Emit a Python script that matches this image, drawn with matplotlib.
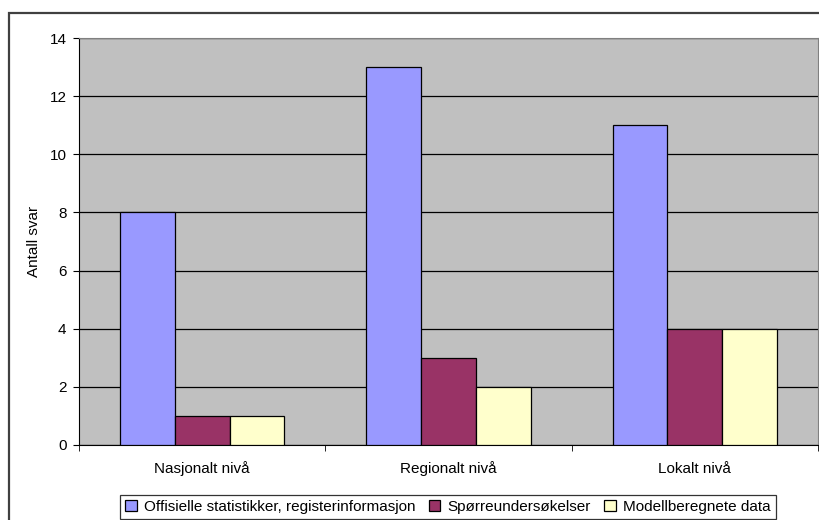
import numpy as np
import matplotlib.pyplot as plt
from matplotlib.patches import Rectangle

plt.rcParams['font.family'] = ['Liberation Sans', 'DejaVu Sans']

kategorier = ["Nasjonalt nivå", "Regionalt nivå", "Lokalt nivå"]
serier = ["Offisielle statistikker, registerinformasjon", "Spørreundersøkelser", "Modellberegnete data"]
offisielle = [8, 13, 11]
sporre = [1, 3, 4]
modell = [1, 2, 4]
farger = ["#9999FF", "#993366", "#FFFFCC"]

fig = plt.figure(figsize=(8.19, 5.2), dpi=100)
ax = fig.add_axes([79 / 819, 75 / 520, 739 / 819, 407 / 520])
ax.set_facecolor("#C0C0C0")

# ramme rundt hele diagrammet
fig.patches.append(Rectangle((9 / 819, -0.1), 1.1, 1.1 - 13 / 520,
                             transform=fig.transFigure, fill=False,
                             edgecolor="#404040", linewidth=1.6))

x = np.arange(len(kategorier))
b = 1 / 4.5
for i, (verdier, navn) in enumerate(zip([offisielle, sporre, modell], serier)):
    ax.bar(x + (i - 1) * b, verdier, b, color=farger[i], edgecolor="black",
           linewidth=0.9, label=navn, zorder=3)

ax.set_xlim(-0.5, 2.5)
ax.set_ylim(0, 14)
ax.set_yticks(range(0, 15, 2))
ax.yaxis.grid(True, color="black", linewidth=0.9, zorder=1)
ax.set_axisbelow(True)

ax.set_xticks(x)
ax.set_xticklabels(kategorier, fontsize=11)
for t in ax.get_xticklabels():
    t.set_verticalalignment("baseline")
ax.set_xticks([-0.5, 0.5, 1.5, 2.5], minor=True)
ax.tick_params(axis="x", which="major", length=0, pad=20)
ax.tick_params(axis="x", which="minor", length=4, direction="out")
ax.tick_params(axis="y", length=4, labelsize=11, pad=5)
ax.set_ylabel("Antall svar", fontsize=11, labelpad=6)

for s in ["top", "right"]:
    ax.spines[s].set_color("#808080")
for s in ["left", "bottom"]:
    ax.spines[s].set_color("black")

leg = ax.legend(loc="center", bbox_to_anchor=(448 / 819, 13 / 520),
                bbox_transform=fig.transFigure, ncol=3, fontsize=11,
                frameon=True, fancybox=False, edgecolor="black",
                handlelength=0.75, handleheight=0.75, handletextpad=0.5,
                columnspacing=0.85, borderpad=0.35, borderaxespad=0)
leg.get_frame().set_linewidth(0.9)

fig.savefig("out.png", dpi=100)
